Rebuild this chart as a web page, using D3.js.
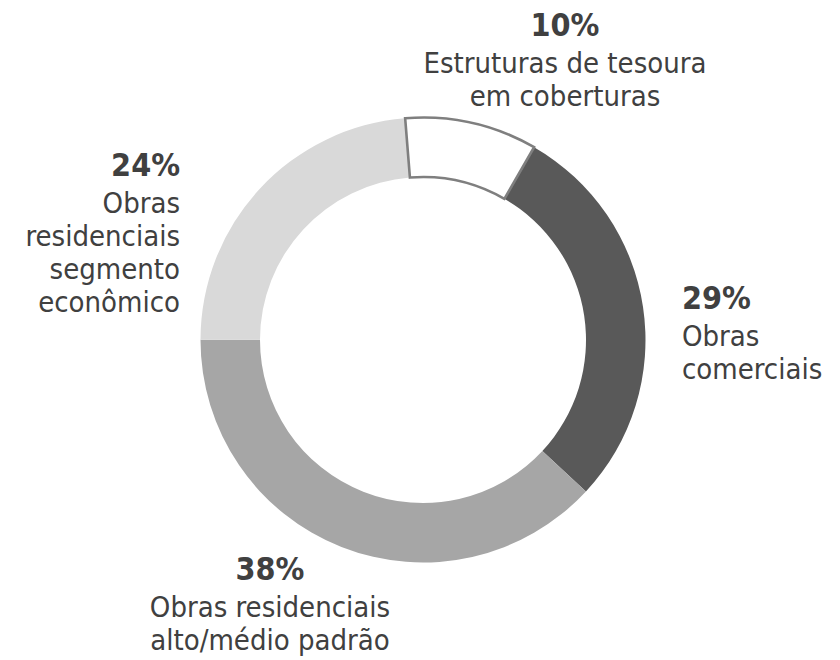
<!DOCTYPE html>
<html>
<head>
<meta charset="utf-8">
<script src="https://cdn.jsdelivr.net/npm/d3@7"></script>
<style>
  html, body { margin: 0; padding: 0; background: #fff; }
  text { font-family: "DejaVu Sans Condensed", "DejaVu Sans", sans-serif; fill: #404040; }
</style>
</head>
<body>
<div id="chart"></div>
<script>
// DATA
const categories = ['Estruturas de tesoura em coberturas', 'Obras comerciais',
  'Obras residenciais alto/médio padrão', 'Obras residenciais segmento econômico'];
const shares = [9.6, 28.6, 38.1, 23.7];
const pctLabels = ['10%', '29%', '38%', '24%'];
const labelLines = [
  ['Estruturas de tesoura', 'em coberturas'],
  ['Obras', 'comerciais'],
  ['Obras residenciais', 'alto/médio padrão'],
  ['Obras', 'residenciais', 'segmento', 'econômico']
];
const fills = ['#ffffff', '#595959', '#a6a6a6', '#d9d9d9'];

// layout
var width = 840;
var height = 660;
var cx = 423, cy = 340;
var outerR = 222.5, innerR = 163;
var startDeg = -4.6;
// label anchors: [x, baseline of percentage, text-anchor]
var labelPos = [
  [565, 36, 'middle'],
  [682, 309, 'start'],
  [270, 580, 'middle'],
  [180, 176, 'end']
];
var firstGap = 37;
var lineStep = 33;

var svg = d3.select('#chart')
  .append('svg')
    .attr('width', width)
    .attr('height', height);

var pie = d3.pie()
    .sort(null)
    .value(function(d) { return d; })
    .startAngle(startDeg * Math.PI / 180)
    .endAngle(startDeg * Math.PI / 180 + 2 * Math.PI);

var arc = d3.arc()
    .innerRadius(innerR)
    .outerRadius(outerR);

var arcs = pie(shares);

var g = svg.append('g')
    .attr('transform', 'translate(' + cx + ',' + cy + ')');

// draw filled slices first, outlined white slice last so its border sits on top
var order = [1, 2, 3, 0];
g.selectAll('path')
  .data(order.map(function(i) { return arcs[i]; }))
  .enter()
  .append('path')
    .attr('d', arc)
    .attr('fill', function(d) { return fills[d.index]; })
    .attr('stroke', function(d) { return d.index === 0 ? '#7f7f7f' : 'none'; })
    .attr('stroke-width', 2.6)
    .attr('stroke-linejoin', 'miter')
  .append('title')
    .text(function(d) { return categories[d.index] + ': ' + pctLabels[d.index]; });

// labels
var labels = svg.selectAll('g.label')
  .data(shares)
  .enter()
  .append('g')
    .attr('class', 'label');

labels.append('text')
    .attr('x', function(d, i) { return labelPos[i][0]; })
    .attr('y', function(d, i) { return labelPos[i][1]; })
    .attr('text-anchor', function(d, i) { return labelPos[i][2]; })
    .style('font-size', '32px')
    .style('font-weight', 'bold')
    .text(function(d, i) { return pctLabels[i]; });

labels.each(function(d, i) {
  var p = labelPos[i];
  var t = d3.select(this).append('text')
      .attr('text-anchor', p[2])
      .style('font-size', '29px');
  labelLines[i].forEach(function(line, j) {
    t.append('tspan')
        .attr('x', p[0])
        .attr('y', p[1] + firstGap + j * lineStep)
        .text(line);
  });
});
</script>
</body>
</html>
